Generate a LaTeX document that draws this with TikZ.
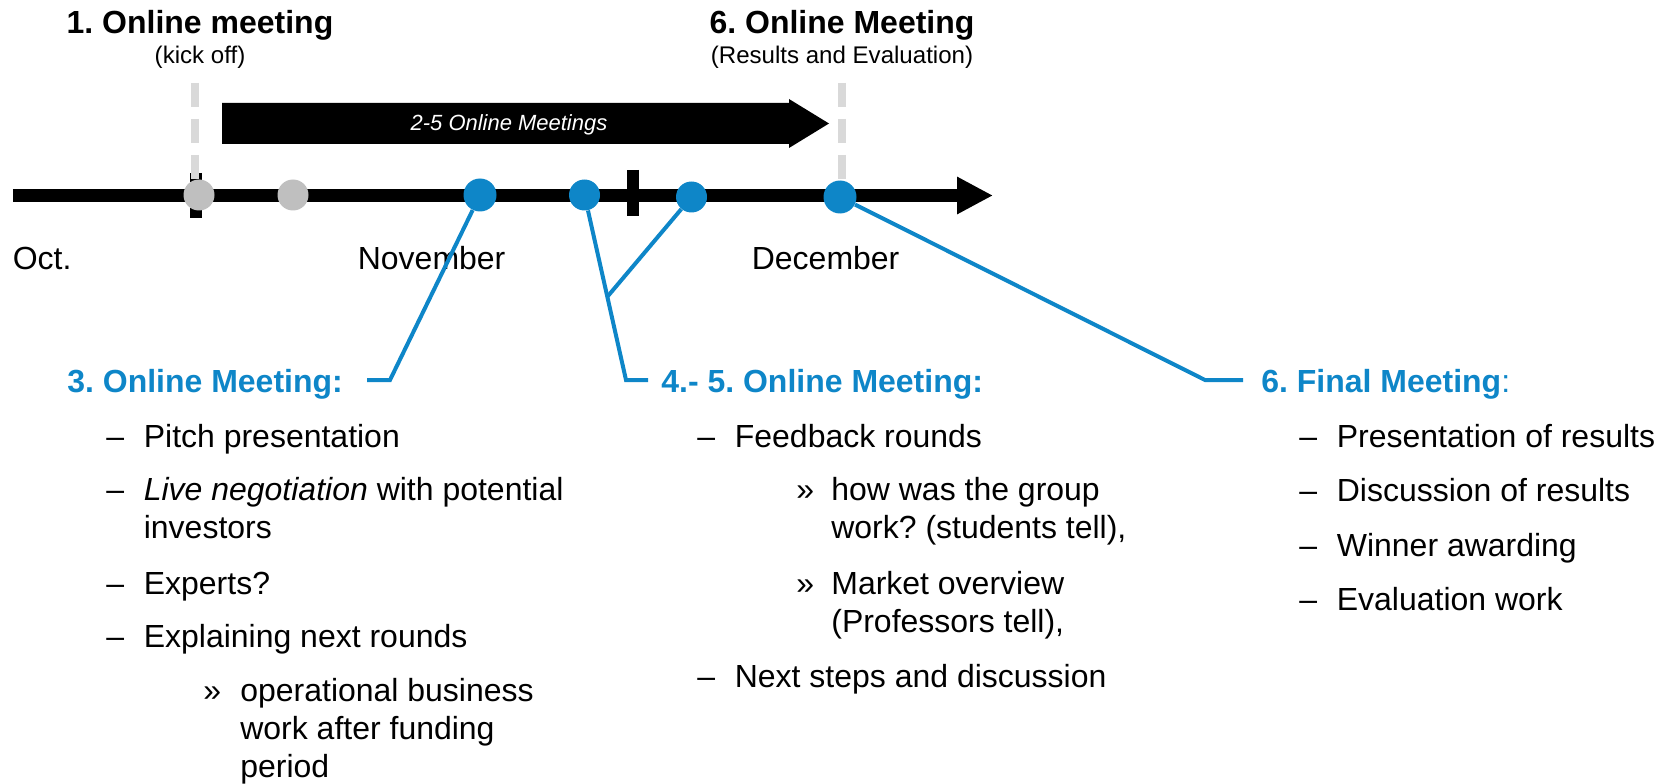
\documentclass[tikz,border=0pt]{standalone}
\usepackage{fontspec}
\setmainfont{Liberation Sans}
\usepackage{xcolor}
\usepackage{tikz}
\usetikzlibrary{arrows.meta,calc}
\frenchspacing

\definecolor{meetblue}{HTML}{0E86C8}
\definecolor{pastgrey}{HTML}{BFBFBF}
\definecolor{guidegrey}{HTML}{D9D9D9}

\begin{document}
\begin{tikzpicture}[
	past/.style={circle,fill=pastgrey,minimum size=0.62cm,inner sep=0pt},
	meet/.style={circle,fill=meetblue,minimum size=0.66cm,inner sep=0pt},
	txt/.style={inner sep=0pt,anchor=base west,font=\fontsize{18.2}{21.6}\selectfont},
	title/.style={inner sep=0pt,anchor=base,font=\bfseries\fontsize{18.2}{21.6}\selectfont},
	note/.style={inner sep=0pt,anchor=base,font=\fontsize{13.7}{16}\selectfont},
	phase/.style={txt,text=meetblue,font=\bfseries\fontsize{18.2}{21.6}\selectfont},
	link/.style={draw=meetblue,line width=0.08cm},
	guide/.style={draw=guidegrey,line width=0.16cm,dash pattern=on 0.49cm off 0.23cm}]
	
	\useasboundingbox (0,0) rectangle (33.32,-15.68);
	
	% Timeline
	\coordinate (t0) at (0.26,-3.91);
	\coordinate (tend) at (19.86,-3.91);
	\draw[line width=0.25cm,-{Triangle[length=0.72cm,width=0.70cm]}] (t0) -- (tend);
	\draw[line width=0.24cm] (3.92,-3.46) -- (3.92,-4.36);
	\draw[line width=0.24cm] (12.66,-3.40) -- (12.66,-4.32);
	
	% Meetings
	\node[past] (m1) at (3.98,-3.90) {};
	\node[past] (m2) at (5.86,-3.90) {};
	\node[meet] (m3) at (9.60,-3.90) {};
	\node[meet,minimum size=0.62cm] (m4) at (11.69,-3.90) {};
	\node[meet,minimum size=0.62cm] (m5) at (13.83,-3.94) {};
	\node[meet] (m6) at (16.80,-3.94) {};
	
	% Months
	\node[txt] (oct) at (0.25,-5.38) {Oct.};
	\node[txt] (nov) at (7.15,-5.38) {November};
	\node[txt] (dec) at (15.03,-5.38) {December};
	
	% Titles
	\node[title] (kick) at (4.00,-0.68) {1. Online meeting};
	\node[note] (kicknote) at (4.00,-1.28) {(kick off)};
	\node[title] (eval) at (16.84,-0.68) {6. Online Meeting};
	\node[note] (evalnote) at (16.84,-1.28) {(Results and Evaluation)};
	
	\coordinate (g1) at (3.89,-1.66);
	\coordinate (g6) at (16.84,-1.66);
	\draw[guide] (g1) -- (g1 |- m1.north);
	\draw[guide] (g6) -- (g6 |- m6.north);
	
	% 2-5 arrow
	\fill (4.44,-2.06) -- (15.78,-2.06) -- (15.78,-1.98) -- (16.58,-2.47)
		-- (15.78,-2.96) -- (15.78,-2.88) -- (4.44,-2.88) -- cycle;
	\node[inner sep=0pt,anchor=base,text=white,font=\itshape\fontsize{12.5}{15}\selectfont]
		(span) at (10.18,-2.62) {2-5 Online Meetings};
	
	% Connectors
	\coordinate (k3) at (7.80,-7.60);
	\coordinate (e3) at (7.34,-7.60);
	\coordinate (k45) at (12.52,-7.60);
	\coordinate (e45) at (12.96,-7.60);
	\coordinate (k6) at (24.10,-7.60);
	\coordinate (e6) at (24.86,-7.60);
	\coordinate (j45) at ($(m4)!0.55!(k45)$);
	\draw[link] (m3) -- (k3) -- (e3);
	\draw[link] (m4) -- (k45) -- (e45);
	\draw[link] (m5) -- (j45);
	\draw[link] (m6) -- (k6) -- (e6);
	
	% Headers
	\node[phase] (h3) at (1.34,-7.84) {3. Online Meeting:};
	\node[phase] (h45) at (13.22,-7.84) {4.- 5. Online Meeting:};
	\node[phase] (h6) at (25.22,-7.84) {6. Final Meeting\textmd{:}};
	
	% Meeting 3 list
	\foreach \y [count=\i] in {8.94,10.00,11.88,12.94}
	\node[txt] (da\i) at (2.12,-\y) {\textendash};
	\foreach \y/\t [count=\i] in {8.94/Pitch presentation,
		10.00/{\textit{Live negotiation} with potential},10.76/investors,
		11.88/Experts?,12.94/Explaining next rounds}
	\node[txt] (ia\i) at (2.87,-\y) {\t};
	\node[txt] (sa) at (4.06,-14.02) {»};
	\foreach \y/\t [count=\i] in {14.02/operational business,
		14.78/work after funding,15.54/period}
	\node[txt] (ja\i) at (4.80,-\y) {\t};
	
	% Meeting 4-5 list
	\foreach \y [count=\i] in {8.94,13.74}
	\node[txt] (db\i) at (13.94,-\y) {\textendash};
	\node[txt] (ib1) at (14.69,-8.94) {Feedback rounds};
	\node[txt] (ib2) at (14.69,-13.74) {Next steps and discussion};
	\foreach \y [count=\i] in {10.00,11.88}
	\node[txt] (sb\i) at (15.92,-\y) {»};
	\foreach \y/\t [count=\i] in {10.00/how was the group,
		10.76/{work? (students tell),},11.88/Market overview,
		12.64/{(Professors tell),}}
	\node[txt] (jb\i) at (16.62,-\y) {\t};
	
	% Meeting 6 list
	\foreach \y/\t [count=\i] in {8.94/Presentation of results,
		10.02/Discussion of results,11.12/Winner awarding,12.20/Evaluation work}
	{
		\node[txt] (dc\i) at (25.98,-\y) {\textendash};
		\node[txt] (ic\i) at (26.73,-\y) {\t};
	}
\end{tikzpicture}
\end{document}
